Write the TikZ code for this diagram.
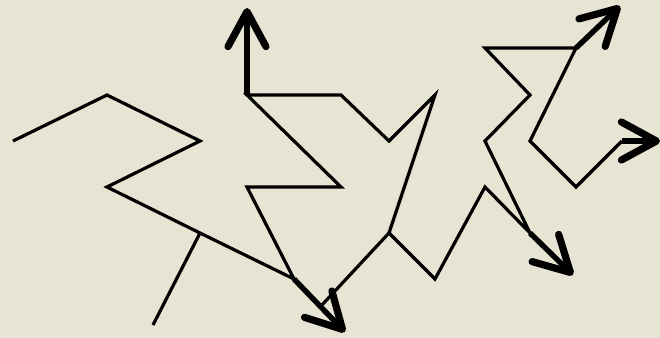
\documentclass[tikz,border=0pt]{standalone}
\usetikzlibrary{arrows.meta}
\definecolor{bg}{RGB}{231,228,211}
\begin{document}
\begin{tikzpicture}[x=0.5pt,y=-0.5pt,
  edge/.style={line width=1.6pt, line join=miter, line cap=butt},
  arrowedge/.style={line width=2.7pt, line cap=butt,
    -{Straight Barb[length=17.5pt,width=19pt,line width=3.6pt,round]}}]
\fill[bg] (0,0) rectangle (660,338);
\useasboundingbox (0,0) rectangle (660,338);
\coordinate (a) at (13,141);
\coordinate (b) at (107,95);
\coordinate (c) at (200,141);
\coordinate (d) at (107,187);
\coordinate (e) at (200,233);
\coordinate (f) at (153,325);
\coordinate (g) at (294,279);
\coordinate (gt) at (345,332);
\coordinate (h) at (247,187);
\coordinate (i) at (341,187);
\coordinate (j) at (247,95);
\coordinate (jt) at (247,8);
\coordinate (k) at (341,95);
\coordinate (l) at (389,141);
\coordinate (m) at (435,95);
\coordinate (n) at (389,233);
\coordinate (np) at (321,306);
\coordinate (o) at (435,279);
\coordinate (p) at (485,187);
\coordinate (q) at (530,233);
\coordinate (qt) at (573,275);
\coordinate (r) at (485,141);
\coordinate (s) at (530,95);
\coordinate (t) at (485,48);
\coordinate (u) at (576,48);
\coordinate (ut) at (620,6);
\coordinate (v) at (530,141);
\coordinate (w) at (576,187);
\coordinate (xx) at (622,141);
\coordinate (xt) at (660,141);
\draw[edge] (a)--(b)--(c)--(d)--(e)--(g)--(h)--(i)--(j)--(k)--(l)--(m)--(n)--(o)--(p)--(q)--(r)--(s)--(t)--(u)--(v)--(w)--(xx);
\draw[edge] (e)--(f);
\draw[edge] (n)--(np);
\draw[arrowedge] (g)--(gt);
\draw[arrowedge] (j)--(jt);
\draw[arrowedge] (q)--(qt);
\draw[arrowedge] (u)--(ut);
\draw[arrowedge] (xx)--(xt);
\end{tikzpicture}
\end{document}
